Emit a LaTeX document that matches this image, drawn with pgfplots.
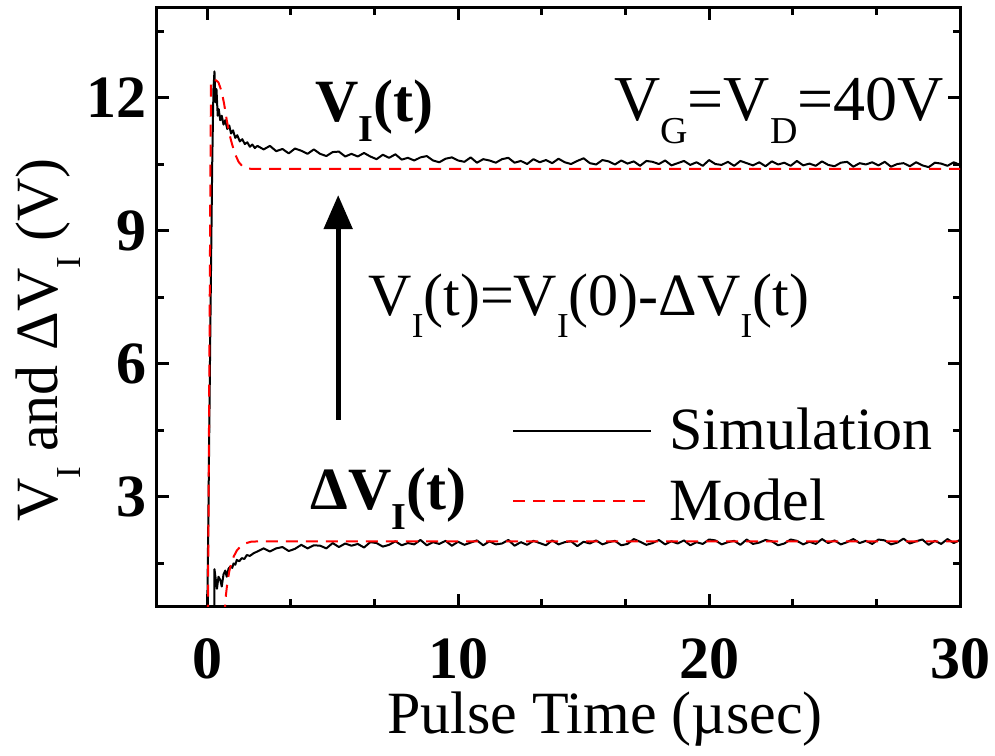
\documentclass[border=0pt]{standalone}
\usepackage{pgfplots}
\pgfplotsset{compat=1.18}
\usepackage{fontspec}
\setmainfont{Liberation Serif}
\usetikzlibrary{arrows.meta}

% lowered, smaller subscripts (regular and bold)
\newcommand\sub[1]{\raisebox{-0.37em}{\fontsize{17.5}{17.5}\selectfont #1}}
\newcommand\bsub[1]{\raisebox{-0.33em}{\fontsize{19}{19}\selectfont\bfseries #1}}
\newcommand\lsub[1]{\raisebox{-0.37em}{\fontsize{19}{19}\selectfont #1}}
\newcommand\lbl{\fontsize{30}{36}\selectfont}

\begin{document}
\begin{tikzpicture}
\begin{axis}[
  scale only axis, width=401.5pt, height=299pt,
  xmin=-2, xmax=30, ymin=0.54, ymax=14.03,
  xtick={0,10,20,30}, ytick={3,6,9,12},
  minor x tick num=2, minor ytick={1.5,4.5,7.5,10.5,13.5},
  tick align=inside,
  major tick length=6pt, minor tick length=3.5pt,
  axis line style={line width=1.5pt},
  every tick/.style={line width=1.5pt, black},
  /pgf/number format/assume math mode=true,
  tick label style={font=\bfseries\fontsize{30}{30}\selectfont, inner sep=0pt},
  xticklabel style={yshift=-16pt},
  yticklabel style={xshift=-5pt},
  xlabel={Pulse Time (µsec)},
  ylabel={V\sub{I} and ΔV\sub{I} (V)},
  label style={font=\lbl, inner sep=0pt},
  xlabel style={at={(axis description cs:0.558,-0.2124)}, anchor=base},
  ylabel style={at={(axis description cs:-0.1233,0.445)}, anchor=base},
  legend style={at={(axis cs:12.15,5.01)}, anchor=north west, draw=none, fill=none,
    font=\lbl, inner sep=0pt, row sep=13pt, column sep=8.5pt,
    nodes={inner sep=0pt}},
  legend cell align=left,
  legend image code/.code={\draw[#1] (0pt,0pt) -- (69pt,0pt);},
]
% simulated V_I(t)
\addplot[black, line width=1pt, line join=round] coordinates {
(0.00,0.30)(0.05,2.70)(0.12,6.50)(0.20,10.50)(0.25,12.20)(0.29,12.60)(0.33,11.90)
(0.37,12.20)(0.42,11.60)(0.46,11.75)(0.52,11.50)(0.58,11.60)(0.65,11.40)(0.72,11.50)
(0.80,11.30)(0.88,11.38)(0.95,11.20)(1.03,11.27)(1.12,11.10)(1.20,11.16)(1.30,11.02)
(1.40,11.07)(1.50,10.96)(1.60,11.00)(1.70,10.90)(1.80,10.95)(1.90,10.87)
(2.00,10.92)(2.25,10.84)(2.50,10.92)(2.75,10.80)(3.00,10.85)(3.25,10.75)(3.50,10.86)
(3.75,10.81)(4.00,10.74)(4.25,10.84)(4.50,10.74)(4.75,10.69)(5.00,10.78)(5.25,10.79)
(5.50,10.68)(5.75,10.74)(6.00,10.68)(6.25,10.76)(6.50,10.68)(6.75,10.62)(7.00,10.72)
(7.25,10.65)(7.50,10.73)(7.75,10.61)(8.00,10.65)(8.25,10.59)(8.50,10.66)(8.75,10.69)
(9.00,10.59)(9.25,10.55)(9.50,10.63)(9.75,10.66)(10.00,10.59)(10.25,10.56)(10.50,10.66)
(10.75,10.54)(11.00,10.62)(11.25,10.59)(11.50,10.54)(11.75,10.62)(12.00,10.65)(12.25,10.54)
(12.50,10.58)(12.75,10.51)(13.00,10.62)(13.25,10.55)(13.50,10.60)(13.75,10.53)(14.00,10.63)
(14.25,10.55)(14.50,10.51)(14.75,10.58)(15.00,10.64)(15.25,10.53)(15.50,10.50)(15.75,10.60)
(16.00,10.57)(16.25,10.50)(16.50,10.59)(16.75,10.52)(17.00,10.57)(17.25,10.47)(17.50,10.58)
(17.75,10.56)(18.00,10.51)(18.25,10.59)(18.50,10.48)(18.75,10.53)(19.00,10.58)(19.25,10.49)
(19.50,10.55)(19.75,10.47)(20.00,10.60)(20.25,10.51)(20.50,10.49)(20.75,10.56)(21.00,10.47)
(21.25,10.58)(21.50,10.53)(21.75,10.48)(22.00,10.55)(22.25,10.46)(22.50,10.57)(22.75,10.50)
(23.00,10.54)(23.25,10.47)(23.50,10.58)(23.75,10.48)(24.00,10.52)(24.25,10.47)(24.50,10.57)
(24.75,10.49)(25.00,10.46)(25.25,10.54)(25.50,10.56)(25.75,10.45)(26.00,10.53)(26.25,10.50)
(26.50,10.55)(26.75,10.48)(27.00,10.56)(27.25,10.45)(27.50,10.51)(27.75,10.53)(28.00,10.46)
(28.25,10.55)(28.50,10.48)(28.75,10.44)(29.00,10.54)(29.25,10.52)(29.50,10.47)(29.75,10.55)
(30.00,10.49)};
\addlegendentry{Simulation}
% simulated Delta V_I(t)
\addplot[black, line width=1pt, line join=round, forget plot] coordinates {
(0.28,0.30)(0.29,1.37)(0.39,0.93)(0.45,1.20)(0.52,1.13)(0.58,0.98)(0.65,1.25)(0.72,1.34)
(0.78,1.20)(0.85,1.38)(0.92,1.43)(1.00,1.40)(1.05,1.50)(1.12,1.47)(1.18,1.58)(1.28,1.55)
(1.38,1.62)(1.48,1.60)(1.58,1.69)(1.70,1.67)(1.85,1.73)
(2.00,1.77)(2.25,1.84)(2.50,1.77)(2.75,1.84)(3.00,1.87)(3.25,1.78)(3.50,1.83)(3.75,1.92)
(4.00,1.84)(4.25,1.91)(4.50,1.90)(4.75,1.84)(5.00,1.96)(5.25,1.87)(5.50,1.95)(5.75,1.90)
(6.00,1.94)(6.25,1.86)(6.50,1.98)(6.75,1.96)(7.00,1.88)(7.25,1.92)(7.50,2.00)(7.75,1.91)
(8.00,1.96)(8.25,1.93)(8.50,2.03)(8.75,1.91)(9.00,1.98)(9.25,1.94)(9.50,2.01)(9.75,1.90)
(10.00,1.99)(10.25,1.92)(10.50,1.97)(10.75,2.02)(11.00,1.91)(11.25,2.00)(11.50,1.93)(11.75,1.95)
(12.00,2.03)(12.25,1.90)(12.50,1.98)(12.75,1.92)(13.00,2.01)(13.25,1.96)(13.50,1.91)(13.75,2.02)
(14.00,1.93)(14.25,1.98)(14.50,2.00)(14.75,1.89)(15.00,1.99)(15.25,1.95)(15.50,2.02)(15.75,1.93)
(16.00,1.98)(16.25,2.01)(16.50,1.91)(16.75,1.94)(17.00,2.05)(17.25,1.99)(17.50,1.92)(17.75,1.96)
(18.00,2.03)(18.25,1.93)(18.50,2.00)(18.75,1.95)(19.00,2.02)(19.25,1.91)(19.50,1.98)(19.75,1.94)
(20.00,2.04)(20.25,2.02)(20.50,1.93)(20.75,1.98)(21.00,2.01)(21.25,1.92)(21.50,2.04)(21.75,1.94)
(22.00,1.97)(22.25,2.03)(22.50,2.00)(22.75,1.91)(23.00,1.95)(23.25,2.04)(23.50,2.01)(23.75,1.93)
(24.00,1.99)(24.25,1.94)(24.50,2.05)(24.75,1.96)(25.00,2.02)(25.25,1.93)(25.50,1.98)(25.75,2.05)
(26.00,1.96)(26.25,2.01)(26.50,1.94)(26.75,2.04)(27.00,2.02)(27.25,1.93)(27.50,1.97)(27.75,2.06)
(28.00,1.95)(28.25,2.00)(28.50,2.04)(28.75,1.92)(29.00,2.01)(29.25,1.94)(29.50,2.05)(29.75,1.96)
(30.00,2.03)};
% model V_I(t)
\addplot[red, line width=1pt, dash pattern=on 6pt off 4pt] coordinates {
(0.03,0.30)(0.15,12.40)(0.35,12.40)(0.45,12.35)(0.58,12.14)(0.68,11.85)(0.78,11.50)
(0.88,11.20)(0.98,10.98)(1.10,10.75)(1.25,10.56)(1.40,10.46)(1.58,10.41)(1.80,10.40)
(30.00,10.40)};
\addlegendentry{Model}
% model Delta V_I(t)
\addplot[red, line width=1pt, dash pattern=on 6pt off 4pt, forget plot] coordinates {
(0.68,0.30)(0.74,0.75)(0.80,1.05)(0.88,1.32)(0.96,1.50)(1.06,1.66)(1.18,1.79)(1.32,1.88)
(1.50,1.95)(1.75,1.99)(2.10,2.00)(30.00,2.00)};

\draw[line width=2.5pt, -{Triangle[length=17pt,width=14pt]}]
  (axis cs:5.22,4.74) -- (axis cs:5.22,9.81);
\node[font=\lbl\bfseries, anchor=base west, inner sep=0pt] at (axis cs:4.3,11.46)
  {V\bsub{I}(t)};
\node[font=\fontsize{32}{36}\selectfont, anchor=base west, inner sep=0pt] at (axis cs:16.2,11.5)
  {V\lsub{G}=V\lsub{D}=40V};
\node[font=\lbl, anchor=base west, inner sep=0pt] at (axis cs:6.41,7.1)
  {V\sub{I}(t)=V\sub{I}(0)-ΔV\sub{I}(t)};
\node[font=\lbl\bfseries, anchor=base west, inner sep=0pt] at (axis cs:4.1,2.71)
  {ΔV\bsub{I}(t)};

\coordinate (sw) at (rel axis cs:0,0);
\coordinate (ne) at (rel axis cs:1,1);
\end{axis}
\pgfresetboundingbox
\useasboundingbox ([shift={(-78.5pt,-74.5pt)}]sw) rectangle ([shift={(17.5pt,4pt)}]ne);
\end{tikzpicture}
\end{document}
